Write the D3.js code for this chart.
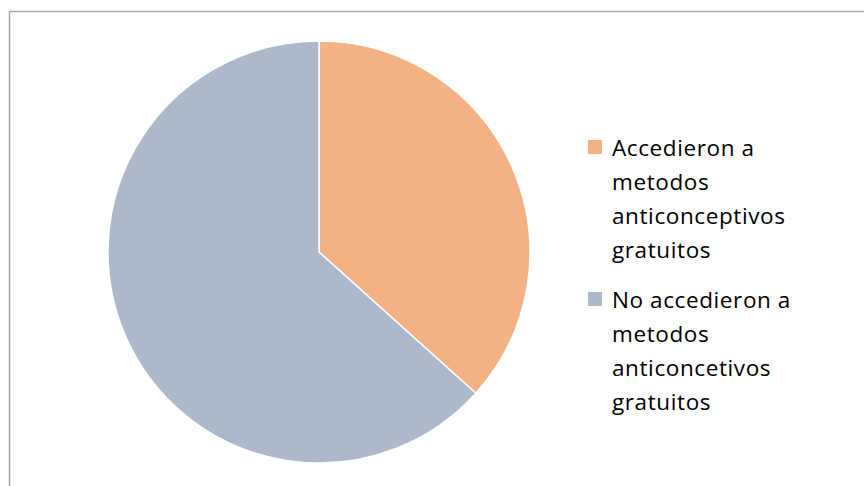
<!DOCTYPE html>
<html><head><meta charset="utf-8">
<script src="https://cdn.jsdelivr.net/npm/d3@7"></script>
<style>body{margin:0;background:#fff}</style>
</head><body>
<svg id="c" width="864" height="486"></svg>
<script>
const categories = ["Accedieron a metodos anticonceptivos gratuitos", "No accedieron a metodos anticoncetivos gratuitos"];
const legendLines = [["Accedieron a","metodos","anticonceptivos","gratuitos"],["No accedieron a","metodos","anticoncetivos","gratuitos"]];
const values = [11, 19];
const colors = ["#F4B183", "#ADB9CA"];

const svg = d3.select("#c");
svg.append("rect").attr("x",9.5).attr("y",11.5).attr("width",900).attr("height",500)
  .attr("fill","#fff").attr("stroke","#a6a6a6").attr("stroke-width",1.5);

const cx = 319, cy = 252, r = 211;
const pie = d3.pie().sort(null).value(d=>d)(values);
const arc = d3.arc().innerRadius(0).outerRadius(r);
svg.append("g").attr("transform",`translate(${cx},${cy})`)
  .selectAll("path").data(pie).join("path")
  .attr("d",arc).attr("fill",(d,i)=>colors[i]).attr("stroke","#fff").attr("stroke-width",1.5);

const lg = svg.append("g");
const groupY = [156, 308];
legendLines.forEach((lines,i)=>{
  lg.append("rect").attr("x",588).attr("y",groupY[i]-16).attr("width",14).attr("height",14).attr("fill",colors[i]);
  lines.forEach((t,j)=>{
    lg.append("text").attr("x",612).attr("y",groupY[i]+j*34)
      .attr("font-family","'Open Sans', sans-serif").attr("font-size",22.5)
      .attr("letter-spacing",0.6).attr("fill","#000").text(t);
  });
});
</script>
</body></html>
